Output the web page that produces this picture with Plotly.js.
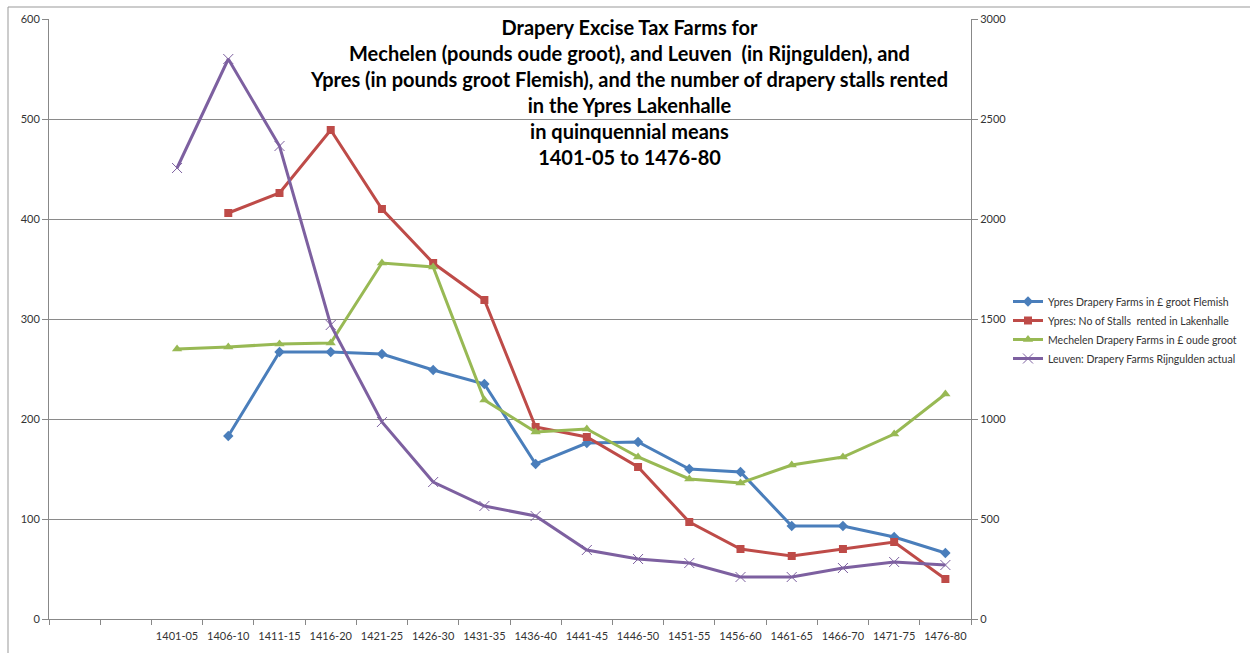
<!DOCTYPE html>
<html>
<head>
<meta charset="utf-8">
<script src="https://cdn.plot.ly/plotly-3.0.1.min.js"></script>
<style>html,body{margin:0;padding:0;background:#fff;}#chart{width:1250px;height:653px;}</style>
</head>
<body>
<div id="chart"></div>
<script>
var categories = [" ", "  ", "1401-05","1406-10","1411-15","1416-20","1421-25","1426-30","1431-35","1436-40","1441-45","1446-50","1451-55","1456-60","1461-65","1466-70","1471-75","1476-80"];
var ypresFarms   = [null,null,null,183,267,267,265,249,235,155,176,177,150,147,93,93,82,66];
var ypresStalls  = [null,null,null,406,426,489,410,356,319,192,182,152,97,70,63,70,77,40];
var mechelen     = [null,null,270,272,275,276,356,352,219,187,190,162,140,136,154,162,185,225];
var leuven       = [null,null,2255,2800,2365,1470,985,685,565,515,345,300,280,210,210,255,285,270];

var FONT = "Lato, 'Open Sans', sans-serif";
var traces = [
  {x: categories, y: ypresFarms, name: "Ypres Drapery Farms in \u00a3 groot Flemish", type: "scatter", mode: "lines+markers",
   line: {color: "#4A7EBB", width: 3}, marker: {symbol: "diamond", size: 8, color: "#4A7EBB"}, yaxis: "y"},
  {x: categories, y: ypresStalls, name: "Ypres: No of Stalls  rented in Lakenhalle", type: "scatter", mode: "lines+markers",
   line: {color: "#BE4B48", width: 3}, marker: {symbol: "square", size: 8, color: "#BE4B48"}, yaxis: "y"},
  {x: categories, y: mechelen, name: "Mechelen Drapery Farms in \u00a3 oude groot", type: "scatter", mode: "lines+markers",
   line: {color: "#98B954", width: 3}, marker: {symbol: "triangle-up", size: 9, color: "#98B954"}, yaxis: "y"},
  {x: categories, y: leuven, name: "Leuven: Drapery Farms Rijngulden actual", type: "scatter", mode: "lines+markers",
   line: {color: "#7D60A0", width: 3}, marker: {symbol: "x-thin-open", size: 10, line: {color: "#7D60A0", width: 1}}, yaxis: "y2"}
];

var layout = {
  width: 1250, height: 653,
  margin: {l: 49, r: 279, t: 19, b: 34},
  paper_bgcolor: "#fff", plot_bgcolor: "#fff",
  showlegend: true,
  font: {family: FONT, size: 11, color: "#333"},
  xaxis: {type: "category", categoryorder: "array", categoryarray: categories, range: [-0.5, 17.5], autorange: false,
    tickson: "boundaries", ticks: "outside", ticklen: 5, tickcolor: "#888", tickangle: 0, automargin: false,
    ticklabelstandoff: 7,
    showgrid: false, showline: true, linecolor: "#888", linewidth: 1,
    tickfont: {family: FONT, size: 11, color: "#333"}, zeroline: false, fixedrange: true},
  yaxis: {range: [0, 600], dtick: 100, tick0: 0, showgrid: true, gridcolor: "#8a8a8a", gridwidth: 1, automargin: false,
    showline: true, linecolor: "#888", ticks: "outside", ticklen: 6, tickcolor: "#888", zeroline: false,
    tickfont: {family: FONT, size: 11, color: "#333"}},
  yaxis2: {range: [0, 3000], dtick: 500, tick0: 0, overlaying: "y", side: "right", showgrid: false, automargin: false,
    showline: true, linecolor: "#888", ticks: "outside", ticklen: 6, tickcolor: "#888", zeroline: false,
    tickfont: {family: FONT, size: 11, color: "#333"}},
  legend: {xref: "container", yref: "container", x: 1008 / 1250, y: (653 - 287) / 653, xanchor: "left", yanchor: "top",
    bgcolor: "rgba(0,0,0,0)", font: {family: FONT, size: 10.5, color: "#333"}, tracegroupgap: 0, itemwidth: 30},
  annotations: [{
    xref: "paper", yref: "paper", x: (629 - 49) / 922, y: 1.01, xanchor: "center", yanchor: "top",
    text: "<b>Drapery Excise Tax Farms for<br>Mechelen (pounds oude groot), and Leuven  (in Rijngulden), and<br>Ypres (in pounds groot Flemish), and the number of drapery stalls rented<br>in the Ypres Lakenhalle<br>in quinquennial means<br>1401-05 to 1476-80</b>",
    showarrow: false, align: "center", font: {family: FONT, size: 20, color: "#000"}
  }],
  shapes: [
    {type: "line", xref: "paper", yref: "paper", x0: (8 - 49) / 922, x1: (8 - 49) / 922, y0: (619 - 653) / 600, y1: (619 - 7) / 600, line: {color: "#999", width: 1}},
    {type: "line", xref: "paper", yref: "paper", x0: (8 - 49) / 922, x1: (1250 - 49) / 922, y0: (619 - 7) / 600, y1: (619 - 7) / 600, line: {color: "#999", width: 1}}
  ]
};

Plotly.newPlot("chart", traces, layout, {displayModeBar: false, staticPlot: true});
</script>
</body>
</html>
